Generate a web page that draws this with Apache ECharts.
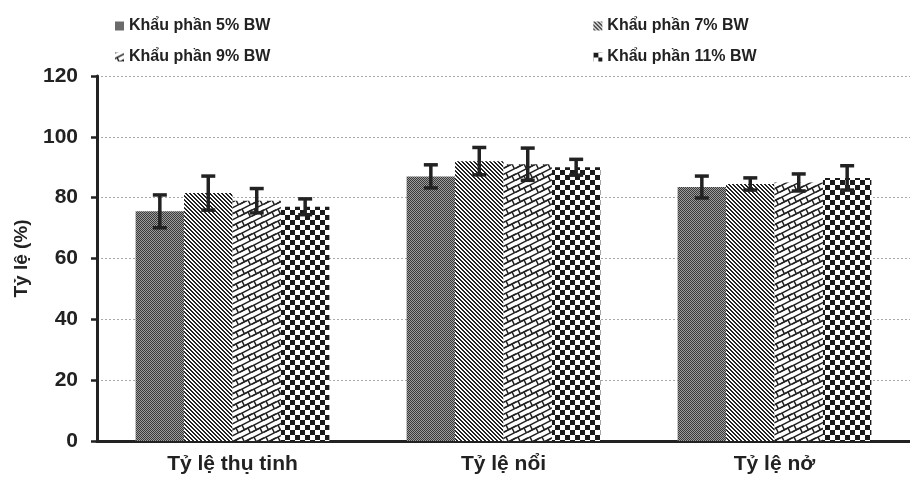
<!DOCTYPE html>
<html>
<head>
<meta charset="utf-8">
<script src="https://cdn.jsdelivr.net/npm/echarts@6/dist/echarts.min.js"></script>
<style>
  html, body { margin: 0; padding: 0; background: #fff; }
  #chart { width: 910px; height: 478px; }
</style>
</head>
<body>
<div id="chart"></div>
<script>
const categories = ["Tỷ lệ thụ tinh", "Tỷ lệ nổi", "Tỷ lệ nở"];
const seriesNames = ["Khẩu phần 5% BW", "Khẩu phần 7% BW", "Khẩu phần 9% BW", "Khẩu phần 11% BW"];

const diet5 = [75.5, 87, 83.5];
const diet7 = [81.5, 92, 84.5];
const diet9 = [79, 91, 85];
const diet11 = [77, 90, 86.5];

const err5 = [5.4, 3.8, 3.6];
const err7 = [5.6, 4.5, 2];
const err9 = [4, 5.3, 2.8];
const err11 = [2.6, 2.6, 4];

const yTicks = [0, 20, 40, 60, 80, 100, 120];

const values = [diet5, diet7, diet9, diet11];
const errors = [err5, err7, err9, err11];

const GAP = 0.285;

// --- fill patterns ---
function makeCanvas(w, h){
    const c = document.createElement("canvas");
    c.width = w;
    c.height = h;
    return c;
}

function patGray(){
    const c = makeCanvas(2, 2);
    const ctx = c.getContext("2d");
    ctx.fillStyle = "#9c9c9c";
    ctx.fillRect(0, 0, 2, 2);
    ctx.fillStyle = "#3a3a3a";
    ctx.fillRect(0, 0, 1, 1);
    ctx.fillRect(1, 1, 1, 1);
    return c;
}

function patDiag(){
    const c = makeCanvas(4, 4);
    const ctx = c.getContext("2d");
    ctx.fillStyle = "#fff";
    ctx.fillRect(0, 0, 4, 4);
    ctx.fillStyle = "#222";
    for(let y=0;y<4;y++){
        ctx.fillRect(y % 4, y, 1, 1);
        ctx.fillRect((y + 1) % 4, y, 1, 1);
    }
    return c;
}

function patBrick(){
    const S = 12;
    const c = makeCanvas(S, S);
    const ctx = c.getContext("2d");
    ctx.fillStyle = "#fff";
    ctx.fillRect(0, 0, S, S);
    ctx.strokeStyle = "#222";
    ctx.lineWidth = 1.5;
    for(let ox=-S;ox<=S;ox+=S){
        for(let oy=-S;oy<=S;oy+=S){
            for(let k=0;k<3;k++){
                ctx.beginPath();
                ctx.moveTo(ox, oy + k*6);
                ctx.lineTo(ox + S, oy + k*6 - 6);
                ctx.stroke();
            }
            // joints
            [[2, 6], [8, 0]].forEach(function(j){
                const x0 = ox + j[0];
                const y0 = oy + j[1] - j[0]/2;
                ctx.beginPath();
                ctx.moveTo(x0, y0);
                ctx.lineTo(x0 + 2.4, y0 + 4.8);
                ctx.stroke();
            });
        }
    }
    return c;
}

function patChecker(){
    const c = makeCanvas(10, 10);
    const ctx = c.getContext("2d");
    ctx.fillStyle = "#fff";
    ctx.fillRect(0, 0, 10, 10);
    ctx.fillStyle = "#1a1a1a";
    ctx.fillRect(0, 0, 5, 5);
    ctx.fillRect(5, 5, 5, 5);
    return c;
}

const patterns = [patGray(), patDiag(), patBrick(), patChecker()];

const chart = echarts.init(document.getElementById("chart"));

const font = "'Liberation Sans', Arial, sans-serif";

const barSeries = seriesNames.map(function(name, i){
    return {
        name: name,
        type: "bar",
        barGap: 0,
        barCategoryGap: (GAP * 100) + "%",
        itemStyle: {
            color: { image: patterns[i], repeat: "repeat" }
        },
        emphasis: { disabled: true },
        data: values[i]
    };
});

const errSeries = seriesNames.map(function(name, i){
    return {
        type: "custom",
        z: 5,
        silent: true,
        data: values[i].map(function(v, k){ return [k, v, errors[i][k]]; }),
        renderItem: function(params, api){
            const idx = api.value(0);
            const v = api.value(1);
            const e = api.value(2);
            const base = api.coord([idx, v]);
            const catW = api.size([1, 0])[0];
            const bw = catW * (1 - GAP) / 4;
            const cx = base[0] + (i - 1.5) * bw;
            const top = api.coord([idx, v + e])[1];
            const bot = api.coord([idx, v - e])[1];
            const st = { stroke: "#222", lineWidth: 3.5 };
            return {
                type: "group",
                children: [
                    { type: "line", shape: { x1: cx, y1: top, x2: cx, y2: bot }, style: st },
                    { type: "line", shape: { x1: cx - 7, y1: top, x2: cx + 7, y2: top }, style: st },
                    { type: "line", shape: { x1: cx - 7, y1: bot, x2: cx + 7, y2: bot }, style: st }
                ]
            };
        }
    };
});

const legendText = { fontFamily: font, fontWeight: "bold", fontSize: 16, color: "#222" };

chart.setOption({
    backgroundColor: "#fff",
    animation: false,
    legend: [
        {
            data: [seriesNames[0], seriesNames[1]],
            left: 110,
            top: 13,
            itemGap: 323,
            itemWidth: 9,
            itemHeight: 9,
            icon: "rect",
            textStyle: legendText
        },
        {
            data: [seriesNames[2], seriesNames[3]],
            left: 110,
            top: 44,
            itemGap: 323,
            itemWidth: 9,
            itemHeight: 9,
            icon: "rect",
            textStyle: legendText
        }
    ],
    grid: {
        left: 97,
        top: 76,
        width: 814,
        height: 365,
        containLabel: false
    },
    xAxis: {
        type: "category",
        data: categories,
        axisLine: { lineStyle: { color: "#222", width: 3 } },
        axisTick: { length: 7, lineStyle: { color: "#222", width: 3 } },
        axisLabel: {
            margin: 13,
            fontFamily: font,
            fontWeight: "bold",
            fontSize: 21,
            color: "#222"
        }
    },
    yAxis: {
        type: "value",
        min: yTicks[0],
        max: yTicks[yTicks.length - 1],
        interval: 20,
        name: "Tỷ lệ (%)",
        nameLocation: "middle",
        nameRotate: 90,
        nameGap: 66,
        nameTextStyle: {
            fontFamily: font,
            fontWeight: "bold",
            fontSize: 19,
            color: "#222"
        },
        axisLine: { show: true, lineStyle: { color: "#222", width: 3 } },
        axisTick: { show: true, length: 6, lineStyle: { color: "#222", width: 2.5 } },
        axisLabel: {
            margin: 19,
            fontFamily: font,
            fontWeight: "bold",
            fontSize: 21,
            color: "#222"
        },
        splitLine: {
            lineStyle: { color: "#aaa", width: 1, type: [2, 2] }
        }
    },
    series: barSeries.concat(errSeries)
});
</script>
</body>
</html>
